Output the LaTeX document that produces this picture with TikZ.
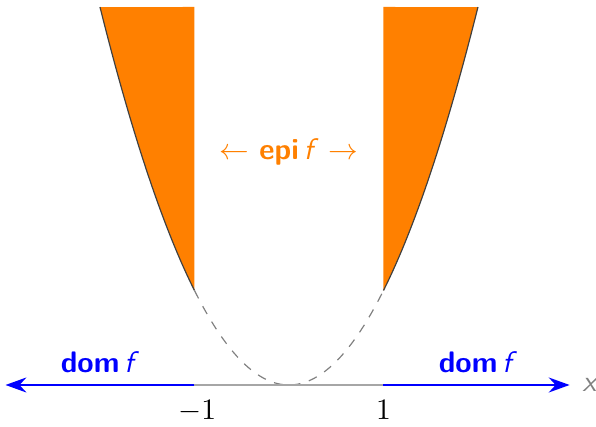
\documentclass[tikz,border=0pt]{standalone}
\usetikzlibrary{arrows.meta}
\tikzset{
  epifill/.style={fill=orange, draw=none},
  graphline/.style={draw=black!75, line width=0.4pt},
  dashline/.style={draw=gray, dashed, line width=0.4pt},
  domarrow/.style={draw=blue, line width=1pt, -{Stealth[length=7pt,width=5pt]}},
  axisline/.style={draw=gray!70, line width=0.8pt},
  domlabel/.style={text=blue, font=\sffamily\bfseries},
}
\begin{document}
\begin{tikzpicture}[x=1.12cm,y=1.12cm]
\useasboundingbox (-3.058,-0.434) rectangle (3.249,4.074);
% orange epigraph parts
\fill[epifill] (1,1) -- plot[domain=1:2,samples=40] (\x,{\x*\x}) -- (1,4) -- cycle;
\fill[epifill] (-1,1) -- plot[domain=-1:-2,samples=40] (\x,{\x*\x}) -- (-1,4) -- cycle;
\draw[graphline] plot[domain=1:2,samples=40] (\x,{\x*\x});
\draw[graphline] plot[domain=-1:-2,samples=40] (\x,{\x*\x});
\draw[dashline] plot[domain=-1:1,samples=50] (\x,{\x*\x});
% axis
\coordinate (m1) at (-1,0);
\coordinate (p1) at (1,0);
\coordinate (lend) at (-3,0);
\coordinate (rend) at (2.97,0);
\draw[axisline] (m1) -- (p1);
\draw[domarrow] (m1) -- (lend);
\draw[domarrow] (p1) -- (rend);
\node[text=gray, anchor=west, inner sep=0pt, font=\sffamily\itshape] (xl) at (3.1,0) {x};
\node[anchor=north] (lm1) at (-0.97,-0.05) {$-1$};
\node[anchor=north] (lp1) at (1,-0.05) {$1$};
\node[domlabel, anchor=south] (dl) at (-2,0.02) {dom\,\textit{\mdseries f}};
\node[domlabel, anchor=south] (dr) at (2,0.02) {dom\,\textit{\mdseries f}};
\node[text=orange, font=\sffamily] (epi) at (0,2.47) {$\leftarrow$ \textbf{epi}\,\textit{f} $\rightarrow$};
\end{tikzpicture}
\end{document}
